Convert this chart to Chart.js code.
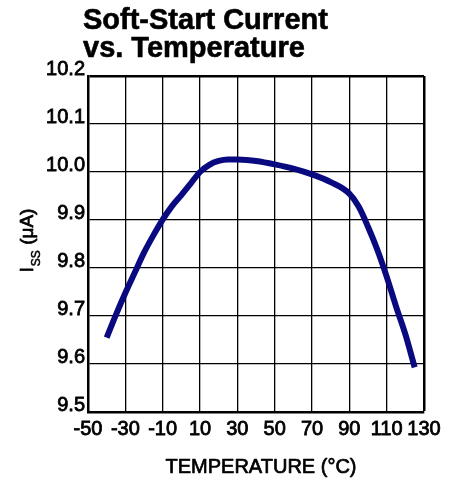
<!DOCTYPE html>
<html>
<head>
<meta charset="utf-8">
<title>Soft-Start Current vs. Temperature</title>
<script src="https://cdn.jsdelivr.net/npm/chart.js@4.4.1/dist/chart.umd.min.js"></script>
<style>
	html, body { margin: 0; padding: 0; background: #fff; }
	canvas { display: block; }
</style>
</head>
<body>
<canvas id="myChart" width="451" height="487"></canvas>
<script>
/*
 * VARIABLES
 */
	var titleLines = ["Soft-Start Current", "vs. Temperature"];
	var xTitle = "TEMPERATURE (°C)";
	var yTitleMain = "I";
	var yTitleSub = "SS";
	var yTitleUnit = " (μA)";

	var temperatures = [-40, -35, -30, -25, -20, -15, -10, -5, 0, 5, 10, 15, 20, 25, 30, 35, 40,
		50, 60, 70, 80, 90, 95, 100, 105, 110, 115, 120, 125];
	var issValues = [9.655, 9.703, 9.748, 9.79, 9.832, 9.868, 9.901, 9.929, 9.952, 9.976, 10.0, 10.015, 10.023, 10.026, 10.026, 10.025, 10.023,
		10.016, 10.007, 9.995, 9.979, 9.955, 9.928, 9.886, 9.838, 9.782, 9.72, 9.662, 9.593];

	var xTicks = [-50, -30, -10, 10, 30, 50, 70, 90, 110, 130];
	var yTicks = [9.5, 9.6, 9.7, 9.8, 9.9, 10.0, 10.1, 10.2];

	var FONT = "'Liberation Sans', Arial, Helvetica, sans-serif";

/*
 * PLUGINS
 */
	/* draw text with a thin outline so it looks as heavy as the original print */
	function heavyText(ctx, text, x, y, weight) {
		ctx.lineWidth = weight;
		ctx.strokeStyle = '#000';
		ctx.lineJoin = 'round';
		ctx.strokeText(text, x, y);
		ctx.fillText(text, x, y);
	}

	/* BACKGROUND + TITLES */
	var textPlugin = {
		id: 'textPlugin',
		beforeDraw: function(chart) {
			var ctx = chart.ctx;
			ctx.save();
			ctx.fillStyle = '#ffffff';
			ctx.fillRect(0, 0, chart.width, chart.height);
			ctx.restore();
		},
		afterDraw: function(chart) {
			var ctx = chart.ctx;
			var area = chart.chartArea;

			// chart title
			ctx.save();
			ctx.fillStyle = '#000';
			ctx.font = 'bold 29px ' + FONT;
			ctx.textAlign = 'left';
			ctx.textBaseline = 'alphabetic';
			heavyText(ctx, titleLines[0], 83, 29, 0.6);
			heavyText(ctx, titleLines[1], 83, 57, 0.6);
			ctx.restore();

			// x axis title
			ctx.save();
			ctx.fillStyle = '#000';
			ctx.font = '20px ' + FONT;
			ctx.textAlign = 'center';
			ctx.textBaseline = 'alphabetic';
			heavyText(ctx, xTitle, 261, 473, 0.7);
			ctx.restore();

			// y axis title with subscript
			ctx.save();
			ctx.fillStyle = '#000';
			ctx.translate(33, (area.top + area.bottom) / 2 - 3);
			ctx.rotate(-Math.PI / 2);
			ctx.textBaseline = 'alphabetic';
			ctx.textAlign = 'left';
			var mainFont = '19px ' + FONT;
			var subFont = '12px ' + FONT;
			ctx.font = mainFont;
			var w1 = ctx.measureText(yTitleMain).width;
			var w3 = ctx.measureText(yTitleUnit).width;
			ctx.font = subFont;
			var w2 = ctx.measureText(yTitleSub).width;
			var x0 = -(w1 + w2 + w3) / 2;
			ctx.font = mainFont;
			heavyText(ctx, yTitleMain, x0, 0, 0.7);
			ctx.font = subFont;
			heavyText(ctx, yTitleSub, x0 + w1 + 1, 7, 0.5);
			ctx.font = mainFont;
			heavyText(ctx, yTitleUnit, x0 + w1 + w2 + 1, 0, 0.7);
			ctx.restore();
		}
	};

/*
 * CHART
 */
	var points = temperatures.map(function(t, i) {
		return { x: t, y: issValues[i] };
	});

	function edgeWidth(ctx, max) {
		return (ctx.tick && Math.abs(ctx.tick.value - max) < 1e-6) ? 2.5 : 1.3;
	}

	var myChart = new Chart(document.getElementById('myChart'), {
		type: 'line',
		data: {
			datasets: [{
				data: points,
				borderColor: '#0a0a80',
				borderWidth: 6,
				pointRadius: 0,
				fill: false,
				cubicInterpolationMode: 'monotone'
			}]
		},
		options: {
			responsive: false,
			animation: false,
			layout: {
				padding: { left: 0, top: 76, right: 27, bottom: 0 }
			},
			plugins: {
				legend: { display: false },
				title: { display: false },
				tooltip: { enabled: false }
			},
			scales: {
				x: {
					type: 'linear',
					min: -50,
					max: 130,
					afterFit: function(scale) { scale.height = 75; },
					afterBuildTicks: function(scale) {
						scale.ticks = xTicks.map(function(v) { return { value: v }; });
					},
					ticks: {
						color: '#000',
						padding: 5,
						maxRotation: 0,
						autoSkip: false,
						textStrokeColor: '#000',
						textStrokeWidth: 0.8,
						font: { family: FONT, size: 20 }
					},
					grid: {
						color: '#000',
						drawTicks: false,
						lineWidth: function(ctx) { return edgeWidth(ctx, 130); }
					},
					border: { color: '#000', width: 2.5 },
					title: { display: false }
				},
				y: {
					type: 'linear',
					min: 9.5,
					max: 10.2,
					afterFit: function(scale) { scale.width = 88; },
					afterBuildTicks: function(scale) {
						scale.ticks = yTicks.map(function(v) { return { value: v }; });
					},
					ticks: {
						color: '#000',
						padding: 3,
						labelOffset: -7,
						autoSkip: false,
						textStrokeColor: '#000',
						textStrokeWidth: 0.8,
						font: { family: FONT, size: 20 },
						callback: function(value) { return Number(value).toFixed(1); }
					},
					grid: {
						color: '#000',
						drawTicks: false,
						lineWidth: function(ctx) { return edgeWidth(ctx, 10.2); }
					},
					border: { color: '#000', width: 2.5 },
					title: { display: false }
				}
			}
		},
		plugins: [textPlugin]
	});
</script>
</body>
</html>
